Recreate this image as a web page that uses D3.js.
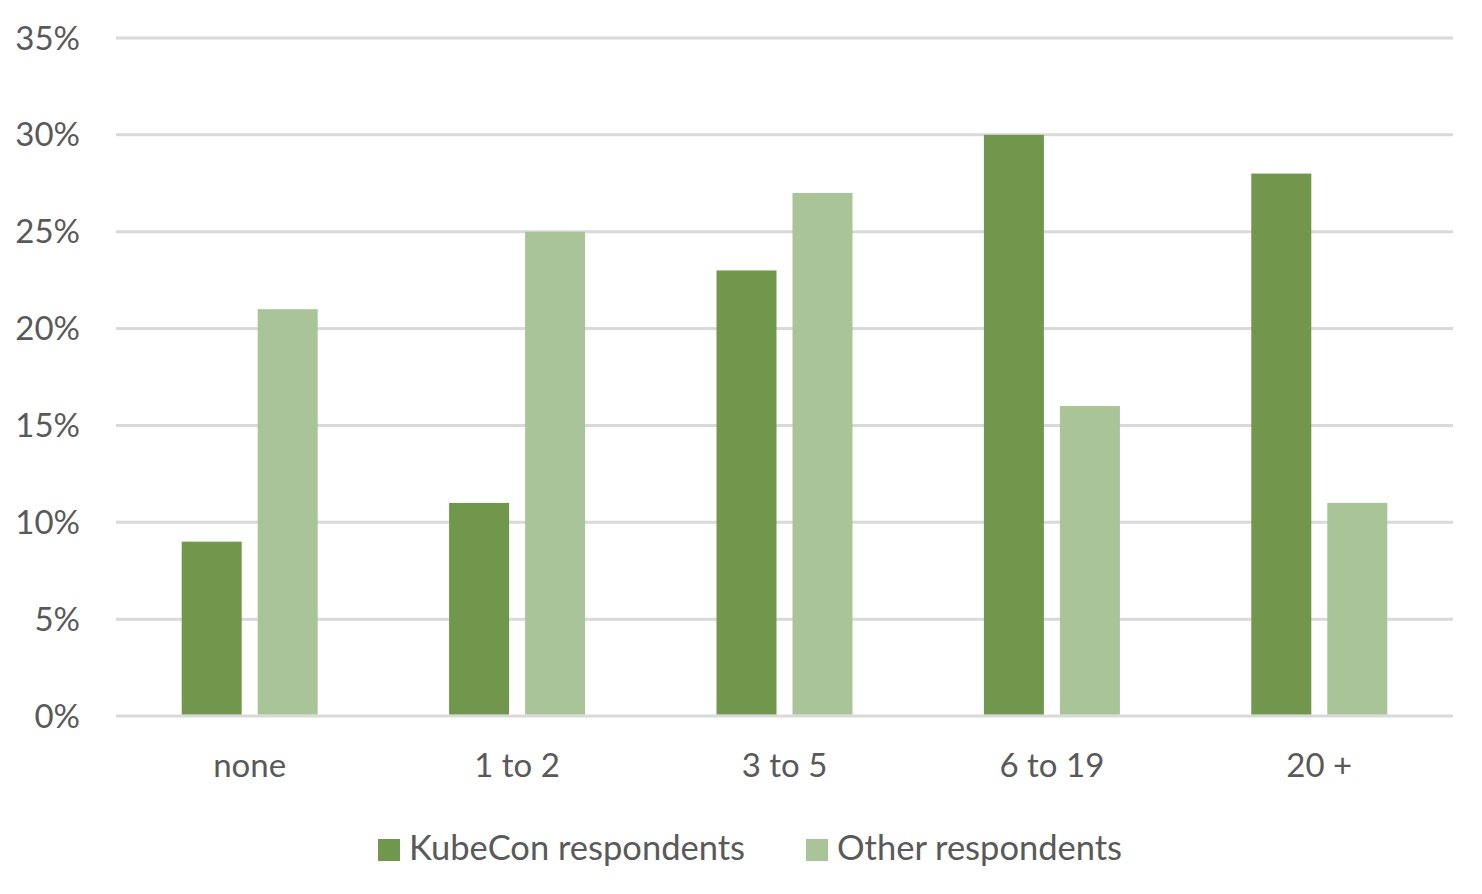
<!DOCTYPE html>
<html><head><meta charset="utf-8">
<script src="https://cdn.jsdelivr.net/npm/d3@7"></script>
<style>html,body{margin:0;padding:0;background:#fff;}</style>
</head><body>
<svg id="chart" width="1482" height="894"></svg>
<script>
const categories = ["none", "1 to 2", "3 to 5", "6 to 19", "20 +"];
const seriesNames = ["KubeCon respondents", "Other respondents"];
const kubecon = [9, 11, 23, 30, 28];
const other = [21, 25, 27, 16, 11];
const yTicks = [0, 5, 10, 15, 20, 25, 30, 35];
const colors = ["#70974b", "#a9c497"];

const values = [kubecon, other];
const svg = d3.select("#chart");
const font = "Lato, 'Open Sans', sans-serif";
const textColor = "#595959";

const x0 = d3.scaleBand().domain(categories).range([116, 1453]).paddingInner(0).paddingOuter(0);
const bw = x0.bandwidth();
const x1 = d3.scaleBand().domain(seriesNames).range([bw/2 - 68, bw/2 + 68]).paddingInner(16/76).paddingOuter(0);
const y = d3.scaleLinear().domain([0, 35]).range([716, 38]);

// gridlines
svg.append("g").selectAll("line").data(yTicks).join("line")
  .attr("x1", 116).attr("x2", 1453)
  .attr("y1", d => y(d)).attr("y2", d => y(d))
  .attr("stroke", "#d9d9d9").attr("stroke-width", 3);

// y tick labels
svg.append("g").selectAll("text").data(yTicks).join("text")
  .attr("x", 80).attr("y", d => y(d)).attr("dy", "0.35em")
  .attr("text-anchor", "end")
  .attr("font-family", font).attr("font-size", 33).attr("fill", textColor)
  .text(d => d + "%");

// bars
const groups = svg.append("g").selectAll("g").data(categories).join("g")
  .attr("transform", c => `translate(${x0(c)},0)`);
groups.selectAll("rect").data((c, i) => seriesNames.map((s, j) => ({s, v: values[j][i], j})))
  .join("rect")
  .attr("x", d => x1(d.s)).attr("width", x1.bandwidth())
  .attr("y", d => y(d.v)).attr("height", d => y(0) - y(d.v) - 1.5)
  .attr("fill", d => colors[d.j]);

// category labels
svg.append("g").selectAll("text").data(categories).join("text")
  .attr("x", c => x0(c) + bw/2).attr("y", 777)
  .attr("text-anchor", "middle")
  .attr("font-family", font).attr("font-size", 33).attr("fill", textColor)
  .text(c => c);

// legend
const legendX = [378, 806];
const leg = svg.append("g").selectAll("g").data(seriesNames).join("g")
  .attr("transform", (d, i) => `translate(${legendX[i]},0)`);
leg.append("rect").attr("x", 0).attr("y", 839).attr("width", 22).attr("height", 22)
  .attr("fill", (d, i) => colors[i]);
leg.append("text").attr("x", 31).attr("y", 860)
  .attr("font-family", font).attr("font-size", 34.5).attr("fill", textColor)
  .text(d => d);
</script>
</body></html>
